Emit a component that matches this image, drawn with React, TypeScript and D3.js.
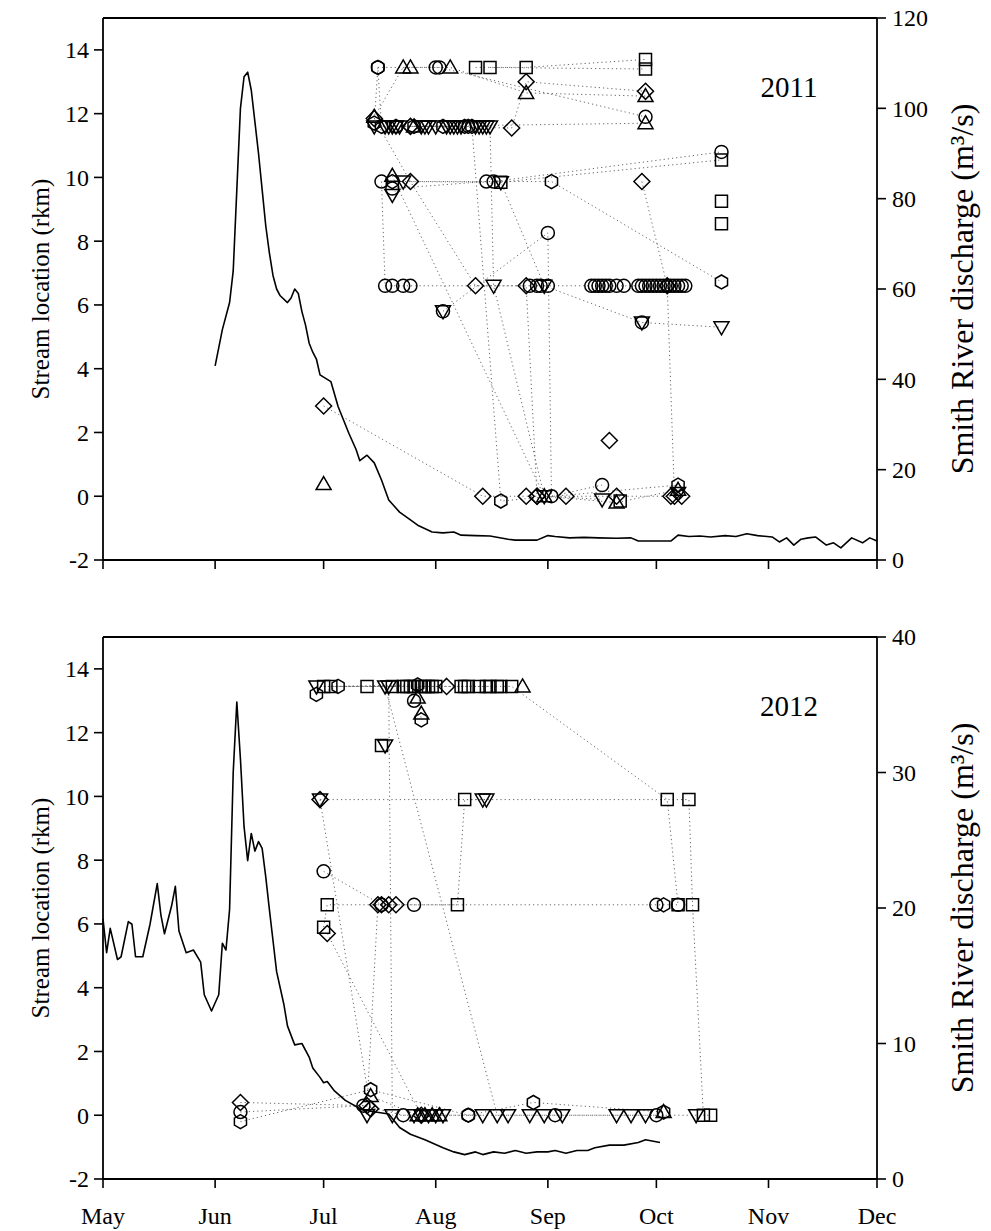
import React from "react";
import * as d3 from "d3";

type Pt = [string, number];
type Shape = "circle" | "square" | "triUp" | "triDown" | "diamond" | "hexagon";

const X0 = 103;
const X1 = 877;
const FONT = "'Liberation Serif', 'Times New Roman', serif";

const MONTH_TICKS = ["05-01", "06-01", "07-01", "08-01", "09-01", "10-01", "11-01", "12-01"];
const MONTH_LABELS = ["May", "Jun", "Jul", "Aug", "Sep", "Oct", "Nov", "Dec"];
const RKM_TICKS = [-2, 0, 2, 4, 6, 8, 10, 12, 14];
const FLOW_TICKS_2011 = [0, 20, 40, 60, 80, 100, 120];
const FLOW_TICKS_2012 = [0, 10, 20, 30, 40];

// Smith River discharge (m3/s)
const flow2011: Pt[] = [
  ["06-01", 43], ["06-03", 51], ["06-05", 57], ["06-06", 64], ["06-07", 82], ["06-08", 100],
  ["06-09", 107], ["06-10", 108], ["06-11", 104], ["06-12", 97], ["06-13", 90], ["06-14", 82],
  ["06-15", 74], ["06-16", 68], ["06-17", 63], ["06-18", 60], ["06-19", 58.5], ["06-21", 57],
  ["06-22", 58], ["06-23", 60], ["06-24", 59], ["06-25", 55], ["06-26", 52], ["06-27", 48],
  ["06-28", 46], ["06-29", 44.5], ["06-30", 41], ["07-02", 40], ["07-03", 39.5], ["07-05", 34],
  ["07-08", 28], ["07-10", 24.4], ["07-11", 22], ["07-13", 23.2], ["07-15", 21.5], ["07-17", 17.7],
  ["07-19", 13.3], ["07-22", 10.6], ["07-25", 8.9], ["07-27", 7.7], ["07-31", 6.2], ["08-03", 6.0],
  ["08-06", 6.2], ["08-08", 5.5], ["08-12", 5.4], ["08-16", 5.3], ["08-21", 4.6], ["08-23", 4.4],
  ["08-29", 4.4], ["09-01", 5.4], ["09-03", 5.2], ["09-07", 4.9], ["09-11", 5.0], ["09-15", 4.9],
  ["09-20", 4.8], ["09-24", 4.9], ["09-26", 4.2], ["10-05", 4.2], ["10-07", 5.5], ["10-10", 5.2],
  ["10-13", 5.3], ["10-16", 5.1], ["10-20", 5.4], ["10-23", 5.2], ["10-26", 5.8], ["10-29", 5.4],
  ["11-02", 5.1], ["11-04", 4.0], ["11-06", 4.9], ["11-08", 3.3], ["11-10", 4.6], ["11-12", 4.9],
  ["11-14", 5.1], ["11-17", 3.3], ["11-19", 3.8], ["11-21", 2.7], ["11-24", 4.9], ["11-27", 3.8],
  ["11-29", 4.9], ["12-01", 4.2],
];

const flow2012: Pt[] = [
  ["05-01", 19.2], ["05-02", 16.7], ["05-03", 18.5], ["05-05", 16.2], ["05-06", 16.4], ["05-08", 19.0],
  ["05-09", 18.8], ["05-10", 16.4], ["05-12", 16.4], ["05-14", 18.8], ["05-16", 21.8], ["05-17", 19.5],
  ["05-18", 18.1], ["05-20", 20.2], ["05-21", 21.6], ["05-22", 18.3], ["05-24", 16.7], ["05-26", 16.9],
  ["05-28", 16.0], ["05-29", 13.6], ["05-31", 12.4], ["06-02", 13.6], ["06-03", 17.4], ["06-04", 16.9],
  ["06-05", 19.9], ["06-06", 30.0], ["06-07", 35.2], ["06-08", 31.0], ["06-09", 26.0], ["06-10", 23.5],
  ["06-11", 25.5], ["06-12", 24.2], ["06-13", 24.9], ["06-14", 24.4], ["06-15", 22.3], ["06-16", 19.9],
  ["06-17", 17.6], ["06-18", 15.3], ["06-20", 12.9], ["06-21", 11.3], ["06-23", 9.9], ["06-25", 10.0],
  ["06-27", 9.0], ["06-28", 8.2], ["06-30", 7.5], ["07-01", 7.1], ["07-02", 7.2], ["07-04", 6.5],
  ["07-07", 5.8], ["07-11", 5.2], ["07-14", 5.0], ["07-19", 4.8], ["07-22", 3.8], ["07-25", 3.3],
  ["07-29", 2.9], ["08-03", 2.3], ["08-06", 2.0], ["08-09", 1.8], ["08-12", 2.0], ["08-14", 1.8],
  ["08-17", 2.0], ["08-20", 1.9], ["08-23", 2.1], ["08-26", 1.9], ["08-29", 2.0], ["09-01", 2.0],
  ["09-03", 2.1], ["09-06", 1.9], ["09-09", 2.1], ["09-12", 2.1], ["09-14", 2.3], ["09-18", 2.5],
  ["09-22", 2.5], ["09-26", 2.7], ["09-28", 2.9], ["10-02", 2.7],
];

// ---- 2011 fish tracks (date, stream location rkm) ----
const t11_cA: Pt[] = [["07-17", 9.87], ["07-18", 6.6], ["07-20", 6.6], ["07-23", 6.6], ["07-25", 6.6], ["08-27", 6.6], ["08-29", 6.6], ["08-30", 6.6], ["09-01", 6.6], ["09-13", 6.6], ["09-14", 6.6], ["09-15", 6.6], ["09-16", 6.6], ["09-17", 6.6], ["09-18", 6.6], ["09-20", 6.6], ["09-22", 6.6], ["09-26", 6.6], ["09-27", 6.6], ["09-28", 6.6], ["09-29", 6.6], ["09-30", 6.6], ["10-01", 6.6], ["10-02", 6.6], ["10-03", 6.6], ["10-04", 6.6], ["10-05", 6.6], ["10-06", 6.6], ["10-07", 6.6], ["10-08", 6.6], ["10-09", 6.6]];
const t11_cB: Pt[] = [["07-16", 13.45], ["08-01", 13.45], ["08-02", 13.45], ["09-28", 11.9]];
const t11_cC: Pt[] = [["07-20", 9.65], ["08-15", 9.87], ["08-17", 9.87], ["10-19", 10.8]];
const t11_cD: Pt[] = [["08-03", 5.8], ["09-01", 8.26], ["09-02", 0], ["09-16", 0.35]];
const t11_cE: Pt[] = [["09-27", 5.45]];
const t11_vA: Pt[] = [["07-15", 11.6], ["07-18", 11.6], ["07-19", 11.6], ["07-20", 11.6], ["07-21", 11.6], ["07-22", 11.6], ["07-28", 11.6], ["07-29", 11.6], ["07-30", 11.6], ["08-01", 11.6], ["08-04", 11.6], ["08-05", 11.6], ["08-06", 11.6], ["08-07", 11.6], ["08-08", 11.6], ["08-12", 11.6], ["08-13", 11.6], ["08-14", 11.6], ["08-15", 11.6], ["08-16", 11.6], ["08-17", 6.6], ["08-31", 0], ["09-16", -0.1]];
const t11_vB: Pt[] = [["07-20", 9.45], ["07-23", 9.87], ["08-19", 9.85], ["08-31", 6.6], ["09-27", 5.45], ["10-19", 5.3]];
const t11_vC: Pt[] = [["08-03", 5.8]];
const t11_vD: Pt[] = [["10-07", 0.1]];
const t11_hA: Pt[] = [["07-15", 11.7], ["07-16", 13.45], ["07-17", 11.6], ["07-21", 11.6], ["07-26", 11.6], ["08-03", 11.6], ["08-09", 11.6], ["08-10", 11.6], ["08-11", 11.6], ["08-19", -0.15], ["10-07", 0.35]];
const t11_hB: Pt[] = [["07-20", 9.87], ["09-02", 9.87], ["10-19", 6.72]];
const t11_dA: Pt[] = [["07-01", 2.83], ["08-14", 0], ["08-26", 0], ["08-29", 0], ["09-06", 0], ["09-20", 0], ["10-05", 0], ["10-08", 0]];
const t11_dB: Pt[] = [["07-15", 11.85], ["07-25", 9.87], ["08-12", 6.6], ["08-26", 6.6], ["08-29", 0]];
const t11_dC: Pt[] = [["07-25", 11.6], ["08-22", 11.55], ["08-26", 13.0], ["09-28", 12.7]];
const t11_dD: Pt[] = [["09-27", 9.87], ["10-04", 6.6], ["10-06", 0]];
const t11_dE: Pt[] = [["09-18", 1.75]];
const t11_uA: Pt[] = [["07-01", 0.38]];
const t11_uB: Pt[] = [["07-15", 11.9], ["07-23", 13.45], ["07-25", 13.45], ["08-05", 13.45], ["08-26", 12.65], ["09-28", 12.55]];
const t11_uC: Pt[] = [["07-26", 11.6], ["09-28", 11.7]];
const t11_uD: Pt[] = [["07-20", 10.05], ["08-31", 0], ["09-20", -0.2], ["10-07", 0.2]];
const t11_sA: Pt[] = [["08-12", 13.45], ["08-26", 13.45], ["09-28", 13.7]];
const t11_sB: Pt[] = [["08-16", 13.45], ["09-28", 13.4]];
const t11_sC: Pt[] = [["08-19", 9.85], ["10-19", 10.55]];
const t11_sD: Pt[] = [["09-21", -0.15]];
const t11_sE: Pt[] = [["10-19", 9.25]];
const t11_sF: Pt[] = [["10-19", 8.55]];

// ---- 2012 fish tracks ----
const t12_sA: Pt[] = [["07-01", 13.45], ["07-13", 13.45], ["07-23", 13.45], ["07-25", 13.45], ["07-28", 13.45], ["07-30", 13.45], ["08-01", 13.45], ["08-08", 13.45], ["08-10", 13.45], ["08-13", 13.45], ["08-16", 13.45], ["08-19", 13.45], ["08-22", 13.45], ["10-04", 9.9], ["10-07", 6.6]];
const t12_sB: Pt[] = [["07-03", 13.45], ["07-20", 13.45], ["07-24", 13.45], ["07-26", 13.45], ["07-29", 13.45], ["07-31", 13.45], ["08-09", 13.45], ["08-15", 13.45], ["08-18", 13.45]];
const t12_sC: Pt[] = [["07-01", 5.9], ["07-02", 6.6], ["08-07", 6.6], ["08-09", 9.9], ["10-10", 9.9], ["10-11", 6.6], ["10-14", 0], ["10-16", 0]];
const t12_sD: Pt[] = [["07-17", 11.6]];
const t12_vA: Pt[] = [["06-29", 13.45], ["07-18", 13.45], ["08-18", 0], ["08-21", 0], ["08-27", 0], ["08-31", 0], ["09-05", 0], ["09-20", 0], ["09-24", 0], ["09-28", 0], ["10-12", 0]];
const t12_vB: Pt[] = [["07-19", 13.45], ["07-20", 0], ["07-26", 0], ["07-28", 0], ["07-30", 0], ["08-01", 0], ["08-03", 0], ["08-14", 0]];
const t12_vC: Pt[] = [["06-30", 9.9], ["08-14", 9.9], ["08-15", 9.9]];
const t12_vD: Pt[] = [["07-18", 11.6]];
const t12_vE: Pt[] = [["07-13", 0]];
const t12_cA: Pt[] = [["07-01", 7.65], ["07-17", 6.6], ["07-26", 6.6], ["10-01", 6.6], ["10-07", 6.6]];
const t12_cB: Pt[] = [["06-08", 0.1], ["07-12", 0.3], ["07-23", 0], ["08-10", 0], ["09-03", 0], ["10-01", 0]];
const t12_cC: Pt[] = [["07-26", 13.0]];
const t12_hA: Pt[] = [["06-08", -0.2], ["07-14", 0.8], ["08-10", 0], ["08-28", 0.4], ["10-03", 0.1]];
const t12_hB: Pt[] = [["06-29", 13.2], ["07-05", 13.45], ["07-27", 13.5], ["07-28", 12.4]];
const t12_hC: Pt[] = [["10-03", 6.6]];
const t12_dA: Pt[] = [["06-08", 0.4], ["07-13", 0.3], ["07-16", 6.6], ["07-17", 6.6], ["07-19", 6.6], ["07-21", 6.6]];
const t12_dB: Pt[] = [["06-30", 9.9], ["07-14", 0.2]];
const t12_dC: Pt[] = [["07-02", 5.7], ["07-28", 0]];
const t12_dD: Pt[] = [["08-04", 13.45]];
const t12_uA: Pt[] = [["07-27", 13.1]];
const t12_uB: Pt[] = [["08-25", 13.45]];
const t12_uC: Pt[] = [["07-14", 0.6], ["07-27", 0], ["07-29", 0], ["07-31", 0], ["08-02", 0]];
const t12_uD: Pt[] = [["07-28", 12.6]];
const t12_uE: Pt[] = [["10-03", 0.1]];

type Track = { shape: Shape; pts: Pt[] };

const TRACKS_2011: Track[] = [
  { shape: "circle", pts: t11_cA }, { shape: "circle", pts: t11_cB }, { shape: "circle", pts: t11_cC },
  { shape: "circle", pts: t11_cD }, { shape: "circle", pts: t11_cE },
  { shape: "triDown", pts: t11_vA }, { shape: "triDown", pts: t11_vB }, { shape: "triDown", pts: t11_vC },
  { shape: "triDown", pts: t11_vD },
  { shape: "hexagon", pts: t11_hA }, { shape: "hexagon", pts: t11_hB },
  { shape: "diamond", pts: t11_dA }, { shape: "diamond", pts: t11_dB }, { shape: "diamond", pts: t11_dC },
  { shape: "diamond", pts: t11_dD }, { shape: "diamond", pts: t11_dE },
  { shape: "triUp", pts: t11_uA }, { shape: "triUp", pts: t11_uB }, { shape: "triUp", pts: t11_uC },
  { shape: "triUp", pts: t11_uD },
  { shape: "square", pts: t11_sA }, { shape: "square", pts: t11_sB }, { shape: "square", pts: t11_sC },
  { shape: "square", pts: t11_sD }, { shape: "square", pts: t11_sE }, { shape: "square", pts: t11_sF },
];

const TRACKS_2012: Track[] = [
  { shape: "square", pts: t12_sA }, { shape: "square", pts: t12_sB }, { shape: "square", pts: t12_sC },
  { shape: "square", pts: t12_sD },
  { shape: "triDown", pts: t12_vA }, { shape: "triDown", pts: t12_vB }, { shape: "triDown", pts: t12_vC },
  { shape: "triDown", pts: t12_vD }, { shape: "triDown", pts: t12_vE },
  { shape: "circle", pts: t12_cA }, { shape: "circle", pts: t12_cB }, { shape: "circle", pts: t12_cC },
  { shape: "hexagon", pts: t12_hA }, { shape: "hexagon", pts: t12_hB }, { shape: "hexagon", pts: t12_hC },
  { shape: "diamond", pts: t12_dA }, { shape: "diamond", pts: t12_dB }, { shape: "diamond", pts: t12_dC },
  { shape: "diamond", pts: t12_dD },
  { shape: "triUp", pts: t12_uA }, { shape: "triUp", pts: t12_uB }, { shape: "triUp", pts: t12_uC },
  { shape: "triUp", pts: t12_uD }, { shape: "triUp", pts: t12_uE },
];

function hexPath(r: number): string {
  const pts = d3.range(6).map((k) => {
    const a = ((-90 + 60 * k) * Math.PI) / 180;
    return [r * Math.cos(a), r * Math.sin(a)];
  });
  return "M" + pts.map((p) => p[0].toFixed(2) + "," + p[1].toFixed(2)).join("L") + "Z";
}

function shapePath(s: Shape): string {
  switch (s) {
    case "circle":
      return "M6.5,0A6.5,6.5 0 1,1 -6.5,0A6.5,6.5 0 1,1 6.5,0Z";
    case "square":
      return "M-6,-6H6V6H-6Z";
    case "triUp":
      return "M0,-7.5L7.5,5.5L-7.5,5.5Z";
    case "triDown":
      return "M0,7.5L7.5,-5.5L-7.5,-5.5Z";
    case "diamond":
      return "M0,-8L8,0L0,8L-8,0Z";
    default:
      return hexPath(7);
  }
}

type PanelProps = {
  year: number;
  top: number;
  bottom: number;
  flow: Pt[];
  flowMax: number;
  flowTicks: number[];
  tracks: Track[];
  showMonths: boolean;
};

function Panel({ year, top, bottom, flow, flowMax, flowTicks, tracks, showMonths }: PanelProps) {
  const toDate = (md: string) => new Date(year, +md.slice(0, 2) - 1, +md.slice(3, 5));
  const x = d3.scaleTime().domain([new Date(year, 4, 1), new Date(year, 11, 1)]).range([X0, X1]);
  const yL = d3.scaleLinear().domain([-2, 15]).range([bottom, top]);
  const yR = d3.scaleLinear().domain([0, flowMax]).range([bottom, top]);
  const flowLine = d3.line<Pt>().x((p) => x(toDate(p[0]))).y((p) => yR(p[1]));
  const trackLine = d3.line<Pt>().x((p) => x(toDate(p[0]))).y((p) => yL(p[1]));
  const mid = (top + bottom) / 2;

  return (
    <g>
      {tracks.map((t, i) =>
        t.pts.length > 1 ? (
          <path key={"l" + i} d={trackLine(t.pts) || ""} fill="none" stroke="#666" strokeWidth={1} strokeDasharray="1.2 3" />
        ) : null
      )}
      <path d={flowLine(flow) || ""} fill="none" stroke="#000" strokeWidth={1.6} strokeLinejoin="round" />
      {tracks.map((t, i) =>
        t.pts.map((p, j) => (
          <path
            key={"m" + i + "-" + j}
            d={shapePath(t.shape)}
            transform={`translate(${x(toDate(p[0]))},${yL(p[1])})`}
            fill="none"
            stroke="#000"
            strokeWidth={1.5}
          />
        ))
      )}
      <line x1={X0} x2={X1} y1={top} y2={top} stroke="#000" strokeWidth={1.8} />
      <line x1={X0} x2={X1} y1={bottom} y2={bottom} stroke="#000" strokeWidth={1.8} />
      <line x1={X0} x2={X0} y1={top} y2={bottom} stroke="#000" strokeWidth={1.8} />
      <line x1={X1} x2={X1} y1={top} y2={bottom} stroke="#000" strokeWidth={1.8} />
      {MONTH_TICKS.map((m, i) => {
        const xx = x(toDate(m));
        return (
          <g key={"bt" + i}>
            <line x1={xx} x2={xx} y1={bottom} y2={bottom + 9} stroke="#000" strokeWidth={1.6} />
            {showMonths ? (
              <text x={xx} y={bottom + 45} textAnchor="middle" fontFamily={FONT} fontSize={24} fill="#000">
                {MONTH_LABELS[i]}
              </text>
            ) : null}
          </g>
        );
      })}
      {RKM_TICKS.map((v) => (
        <g key={"lt" + v}>
          <line x1={X0 - 9} x2={X0} y1={yL(v)} y2={yL(v)} stroke="#000" strokeWidth={1.6} />
          <text x={X0 - 14} y={yL(v)} dy="0.35em" textAnchor="end" fontFamily={FONT} fontSize={24} fill="#000">
            {v}
          </text>
        </g>
      ))}
      {flowTicks.map((v) => (
        <g key={"rt" + v}>
          <line x1={X1} x2={X1 + 9} y1={yR(v)} y2={yR(v)} stroke="#000" strokeWidth={1.6} />
          <text x={X1 + 15} y={yR(v)} dy="0.35em" textAnchor="start" fontFamily={FONT} fontSize={24} fill="#000">
            {v}
          </text>
        </g>
      ))}
      <text
        transform={`translate(40,${mid}) rotate(-90)`}
        textAnchor="middle"
        dy="0.35em"
        fontFamily={FONT}
        fontSize={25}
        fill="#000"
      >
        Stream location (rkm)
      </text>
      <text
        transform={`translate(962,${mid}) rotate(-90)`}
        textAnchor="middle"
        dy="0.35em"
        fontFamily={FONT}
        fontSize={32}
        fill="#000"
      >
        Smith River discharge (m³/s)
      </text>
      <text x={789} y={top + 79} textAnchor="middle" fontFamily={FONT} fontSize={29} fill="#000">
        {year}
      </text>
    </g>
  );
}

export default function App() {
  return (
    <svg
      width={991}
      height={1231}
      viewBox="0 0 991 1231"
      style={{ position: "absolute", left: 0, top: 0, display: "block", background: "#fff" }}
    >
      <rect x={0} y={0} width={991} height={1231} fill="#fff" />
      <Panel
        year={2011}
        top={18}
        bottom={560}
        flow={flow2011}
        flowMax={120}
        flowTicks={FLOW_TICKS_2011}
        tracks={TRACKS_2011}
        showMonths={false}
      />
      <Panel
        year={2012}
        top={637}
        bottom={1179}
        flow={flow2012}
        flowMax={40}
        flowTicks={FLOW_TICKS_2012}
        tracks={TRACKS_2012}
        showMonths={true}
      />
    </svg>
  );
}
